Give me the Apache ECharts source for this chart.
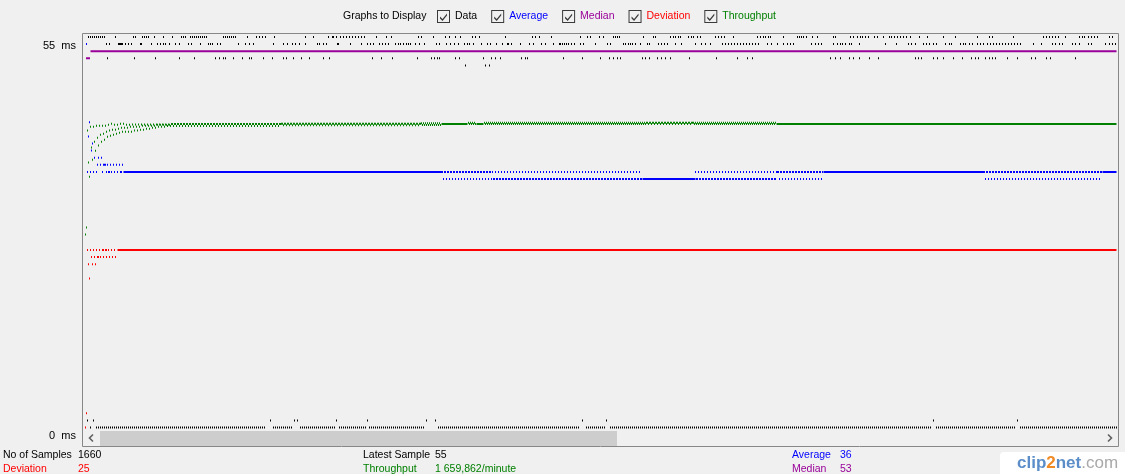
<!DOCTYPE html>
<html><head><meta charset="utf-8">
<script src="https://cdn.jsdelivr.net/npm/echarts@6/dist/echarts.min.js"></script>
<style>html,body{margin:0;padding:0;background:#f0f0f0;}#c{width:1125px;height:474px;}</style>
</head><body><div id="c"></div>
<script>
// ---------- DATA (sample index along x, values in ms or requests/minute) ----------
// positions notation: "a" single sample, "a-b" every sample, "a-b/s" every s-th sample
const seriesNames = ['Data', 'Average', 'Median', 'Deviation', 'Throughput'];
const yTickValues = [0, 55];

// Data: response time rows (ms) and the samples drawn on them
const dataRow55 = "8-24/2 35 53 55 62-68/2 74 83 92 101-105/2 110-126/2 143-155/2 167 176 179 182 185 194 225 233 248 252 253 256 260-284/3 296 306 311 338 341 353 365 369 375 380 392 395 399 425 452 455 459 471 500 507 510 519 523 533-539/2 563 573 575 590 593 595 598 600 608 611 613 617 620 635 638 641 644 653 677 680 683 685 688 690 703 717-723/2 726 732 737 753 755 770 773 777 780 782 785 788 794 797 803 809 811 814 817 820 823 826 830 839 847 863 875 897 909 912 933 963-978/3 985 999 1002 1004 1008 1011 1014 1017 1029 1032";
const dataRow54 = "26 29 38-42 45 48 51 60 61 71 77 80 83 85 89 95 99 108 111 120 128 130 132 137 140 158 165 169 173 193 203 207 212 215 219 225 237 239 243 246 257 258 270 281 287 290 293 299 302 305 308 315 318 320 323 326 328 330 335 339 344 356 359 366 370 374 378 384 387 389 393 401 407 410 416 422 427 428 431 440 449 453 461 465 473 479 480 482 484 486 488 491 494 500 503 515 527 530 543 545 548 550 552 555 560 567 569 578 581 584 587 595 601 615 621 625 630 642-679/3 687 691 697 703 707 710 713 731 735 738 741 753 757 760 762 765 769 771 779 805 816 828 831 835 843 846 849 853 856 865 869 871 880 883 885 889 892 897 900 903 907-942/3 953 961 972 975 979 982 992 995 999 1008 1011 1025 1029 1032 1035";
const dataRow52 = "27 54 75 99 114 135 139 143 145 153 162 169 171 183 192 203 206 213 221 229 243 249 292 301 312 337 351 354 357 359 375 379 403 411 415 420 441 445 447 483 502 520 529 533 537 540 562 565 569 577 581 585 590 609 636 657 667 672 750 755 760 769 773 779 789 798 835 838 841 853 857 863 873 882 891 895 898 905 909 912 915 927 937 951 955 966 970 995";
const dataRow51 = "385 405 409";
const dataRow1 = "7 13 190 214 217 256 287 346 355 502 526 853 937";
const dataRow0 = "10 16-184/2 193-211/2 220-254/2 259-285/2 289-343/2 358-498/2 506-524/2 530-850/2 856-934/2 940-1036/2";

// Average (ms)
const averageSolid = [[43, 361, 36], [562, 615, 35], [743, 903, 36], [1022, 1036, 36]];
const averageDots = [
  [54, "6"], [43, "9"], [41, "8"], [40, "12"], [39, "11"], [38, "14 18 21"],
  [37, "17 20 23 24 25 27 30 33 36 39 42"],
  [36, "7 10 13 16 22 26 28 29 31 34 37 40 41 361-412/3 362-412/3 412-561/3 615-696/3 697-742/3 698-742/3 903-1021/3 904-1021/3"],
  [35, "363-412/3 413-561/3 414-561/3 616-696/3 617-696/3 699-742/3 905-1021/3"]
];

// Median (ms)
const medianSolid = [[10, 1036, 53]];
const medianDots = [[52, "6-9"]];

// Deviation (ms)
const deviationSolid = [[37, 1036, 25]];
const deviationDots = [
  [25, "7 10 13 16 19 22 23 25 26 28 31 34"],
  [24, "11 14 17 18 20 23 26 29 32 35"],
  [23, "8 12 15"], [21, "9"], [2, "6"], [0, "5"]
];

// Throughput (requests / minute)
const throughputEarly = [[5,1056],[6,1094],[7,1624],[8,1449],[9,1372],[10,1645],[11,1531],[12,1465],[13,1645],[14,1563],[15,1514],[16,1651],[17,1585],[18,1542],[19,1651],[20,1602],[21,1563],[22,1651],[23,1607],[24,1574],[25,1651],[26,1618],[27,1591],[28,1656],[29,1624],[30,1596],[31,1662],[32,1629],[33,1602],[34,1656],[35,1629],[36,1607],[37,1656],[38,1634],[39,1613],[40,1662],[41,1640],[42,1618],[43,1662],[44,1640],[45,1618],[46,1656],[47,1640],[48,1618],[49,1656],[50,1645],[51,1618],[52,1658],[53,1645],[54,1624],[55,1658],[56,1645],[57,1624],[58,1658],[59,1645],[60,1629],[61,1658],[62,1651],[63,1629],[64,1658],[65,1651],[66,1634],[67,1658],[68,1651],[69,1634],[70,1658],[71,1651],[72,1640],[73,1658],[74,1651],[75,1640],[76,1658],[77,1656],[78,1645],[79,1658],[80,1656],[81,1645],[82,1658],[83,1656],[84,1645],[85,1658],[86,1656],[87,1649],[88,1658],[89,1656],[90,1649]];
const throughputSolid = [[361, 387, 1660], [396, 403, 1660], [696, 1036, 1660]];
const throughputDots = [
  [1660, "91-199/3 92-200/3 389-395/2 405-565/2 568-612/3 614-695/2"],
  [1649, "93-198/3"],
  [1662, "201-340/3 202-340/3"], [1653, "203-340/3"],
  [1664, "341-360/2"], [1655, "342-360/2"],
  [1667, "388-395/2 404-565/2 566-612/3 567-612/3 613-695/2"]
];

// Summary texts
const summaryLeft = [['No of Samples', '1660', '#000000'], ['Deviation', '25', '#ff0000']];
const summaryMid = [['Latest Sample', '55', '#000000'], ['Throughput', '1 659,862/minute', '#008000']];
const summaryRight = [['Average', '36', '#0000ff'], ['Median', '53', '#990099']];

// ---------- BUILD ----------
const colors = { Data: '#000000', Average: '#0000ff', Median: '#990099', Deviation: '#ff0000', Throughput: '#008000' };
const FONT = 'Liberation Sans';
const FS = 10.5;
function positions(str) {
  const out = [];
  str.trim().split(/\s+/).forEach(tok => {
    const m = tok.match(/^(\d+)(?:-(\d+))?(?:\/(\d+))?$/);
    const a = +m[1], b = m[2] !== undefined ? +m[2] : a, s = m[3] ? +m[3] : 1;
    for (let i = a; i <= b; i += s) out.push(i);
  });
  return out;
}
function rowsToPoints(rows) {
  const pts = [];
  rows.forEach(([v, str]) => positions(str).forEach(x => pts.push([x, v])));
  return pts;
}
const dataPoints = rowsToPoints([[55, dataRow55], [54, dataRow54], [52, dataRow52], [51, dataRow51], [1, dataRow1], [0, dataRow0]]);

function dots(name, data, yAxisIndex) {
  return { type: 'scatter', name, data, yAxisIndex: yAxisIndex || 0, symbol: 'rect', symbolSize: [1, 2],
    itemStyle: { color: colors[name], opacity: 1 }, silent: true, animation: false, progressive: 0, large: false, z: 3 };
}
function solids(name, segs, yAxisIndex) {
  return segs.map((s, i) => ({ type: 'line', name: '_' + name + i, data: [[s[0], s[2]], [s[1], s[2]]], yAxisIndex: yAxisIndex || 0,
    symbol: 'none', showSymbol: false, lineStyle: { color: colors[name], width: 2 }, itemStyle: { color: colors[name] },
    silent: true, animation: false, z: 2 }));
}

const series = [
  dots('Data', dataPoints),
  dots('Average', rowsToPoints(averageDots)),
  dots('Median', rowsToPoints(medianDots)),
  dots('Deviation', rowsToPoints(deviationDots)),
  dots('Throughput', throughputEarly.concat(rowsToPoints(throughputDots)), 1),
  ...solids('Average', averageSolid),
  ...solids('Median', medianSolid),
  ...solids('Deviation', deviationSolid),
  ...solids('Throughput', throughputSolid, 1)
];

const CHECK = 'path://M0,0L13,0L13,13L0,13Z M1,1L1,12L12,12L12,1Z M3,6.5L5.5,9L10,3.5L10,5.5L5.5,11L3,8.5Z';

const graphic = [
  { type: 'rect', shape: { x: 83, y: 431, width: 1036, height: 15 }, style: { fill: '#f0f0f0' }, z: 10 },
  { type: 'rect', shape: { x: 100, y: 431, width: 517, height: 15 }, style: { fill: '#cdcdcd' }, z: 11 },
  { type: 'polyline', shape: { points: [[93, 434.5], [89.5, 438], [93, 441.5]] }, style: { stroke: '#606060', lineWidth: 1.6, fill: null }, z: 11 },
  { type: 'polyline', shape: { points: [[1108, 434.5], [1111.5, 438], [1108, 441.5]] }, style: { stroke: '#606060', lineWidth: 1.6, fill: null }, z: 11 },
  { type: 'rect', shape: { x: 82.5, y: 33.5, width: 1036, height: 413 }, style: { fill: null, stroke: '#878787', lineWidth: 1 }, z: 12 },
  { type: 'text', x: 343, y: 16.5, style: { text: 'Graphs to Display', font: FS + 'px "' + FONT + '"', fill: '#000', verticalAlign: 'middle' } },
  { type: 'rect', shape: { x: 1000, y: 452, width: 125, height: 22, r: [4, 0, 0, 0] }, style: { fill: '#ffffff' } },
  { type: 'text', x: 1017, y: 463, style: { rich: {
      a: { fontFamily: FONT, fontSize: 17, fontWeight: 'bold', fill: '#5b8ec9' },
      b: { fontFamily: FONT, fontSize: 17, fontWeight: 'bold', fill: '#f08a24' },
      c: { fontFamily: FONT, fontSize: 17, fill: '#a9a9a9' } },
      text: '{a|clip}{b|2}{a|net}{c|.com}', verticalAlign: 'middle' } }
];
function addSummary(list, x1, x2) {
  list.forEach(([label, val, col], i) => {
    const y = 455 + i * 14;
    graphic.push({ type: 'text', x: x1, y, style: { text: label, font: FS + 'px "' + FONT + '"', fill: col, verticalAlign: 'middle' } });
    graphic.push({ type: 'text', x: x2, y, style: { text: val, font: FS + 'px "' + FONT + '"', fill: col, verticalAlign: 'middle' } });
  });
}
addSummary(summaryLeft, 3, 78);
addSummary(summaryMid, 363, 435);
addSummary(summaryRight, 792, 840);

const chart = echarts.init(document.getElementById('c'), null, { renderer: 'canvas' });
chart.setOption({
  backgroundColor: '#f0f0f0',
  animation: false,
  grid: { left: 82, top: 33, width: 1037, height: 394.5 },
  xAxis: { type: 'value', min: 1.5, max: 1038.5, show: false },
  yAxis: [
    { type: 'value', min: 0, max: 55.563, splitLine: { show: false }, axisLine: { show: false }, axisTick: { show: false },
      axisLabel: { customValues: yTickValues, formatter: v => (yTickValues.indexOf(v) >= 0 ? v + '  ms' : ''),
        margin: 6, color: '#000', fontFamily: FONT, fontSize: 11, verticalAlign: 'top', lineHeight: 17 } },
    { type: 'value', min: 0, max: 2158, show: false }
  ],
  legend: { left: 437, top: 10, padding: 0, itemWidth: 13, itemHeight: 13, itemGap: 14, selectedMode: false, icon: CHECK,
    itemStyle: { color: '#3a3a3a', borderWidth: 0 },
    textStyle: { fontFamily: FONT, fontSize: FS },
    data: seriesNames.map(n => ({ name: n, textStyle: { color: colors[n] } })) },
  graphic,
  series
});
</script></body></html>
